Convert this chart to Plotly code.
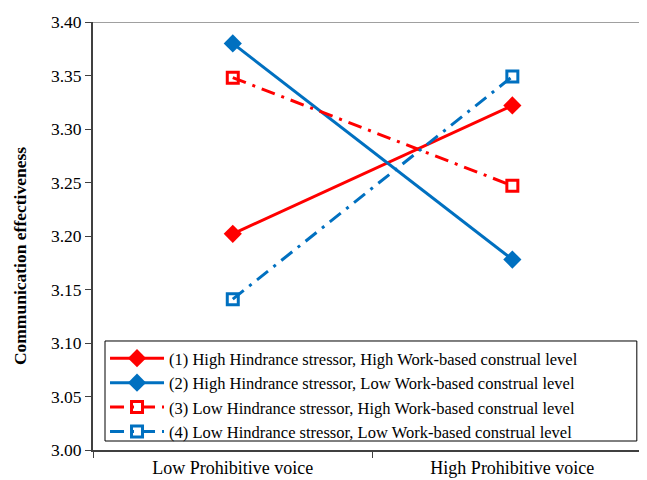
import plotly.graph_objects as go

categories = ["Low Prohibitive voice", "High Prohibitive voice"]
series_names = [
    "(1) High Hindrance stressor, High Work-based construal level",
    "(2) High Hindrance stressor, Low Work-based construal level",
    "(3) Low Hindrance stressor, High Work-based construal level",
    "(4) Low Hindrance stressor, Low Work-based construal level",
]
s1 = [3.202, 3.322]
s2 = [3.380, 3.178]
s3 = [3.348, 3.247]
s4 = [3.141, 3.349]
y_ticks = [3.00, 3.05, 3.10, 3.15, 3.20, 3.25, 3.30, 3.35, 3.40]

RED = "#FF0000"
BLUE = "#0070C0"
FONT = "Liberation Serif"
DASHDOT = "14px,7px,3px,7px"

fig = go.Figure()
styles = [
    (s1, RED, "solid", dict(symbol="diamond", size=14, color=RED)),
    (s2, BLUE, "solid", dict(symbol="diamond", size=14, color=BLUE)),
    (s3, RED, DASHDOT, dict(symbol="square-open", size=11, color=RED, line=dict(width=3, color=RED))),
    (s4, BLUE, DASHDOT, dict(symbol="square-open", size=11, color=BLUE, line=dict(width=3, color=BLUE))),
]
for name, (vals, col, dash, mk) in zip(series_names, styles):
    fig.add_trace(go.Scatter(
        x=categories, y=vals, name=name, mode="lines+markers",
        line=dict(color=col, width=3, dash=dash), marker=mk,
    ))

fig.add_shape(type="line", xref="paper", yref="y", x0=0, x1=1, y0=3.40, y1=3.40,
              line=dict(color="#A0A0A0", width=2), layer="below")
# legend frame
fig.add_shape(type="rect", xref="paper", yref="paper", x0=0.022, x1=0.996, y0=0.021, y1=0.2547,
              line=dict(color="black", width=1), fillcolor="white", layer="above")

fig.add_annotation(
    text="<b>Communication effectiveness</b>", textangle=-90,
    xref="paper", yref="paper", x=-0.1337, y=0.453, xanchor="center", yanchor="middle",
    showarrow=False, font=dict(family=FONT, size=17.5, color="black"),
)

fig.update_layout(
    width=631, height=472,
    margin=dict(l=85, r=0, t=14, b=30, autoexpand=False),
    paper_bgcolor="white", plot_bgcolor="white",
    font=dict(family=FONT, size=17.5, color="black"),
    showlegend=True,
    legend=dict(
        x=0.022, y=0.2547, xanchor="left", yanchor="top",
        borderwidth=0, bgcolor="rgba(0,0,0,0)",
        font=dict(family=FONT, size=16.5, color="black"),
        tracegroupgap=0, itemwidth=54,
    ),
    xaxis=dict(
        type="category", range=[-0.5, 1.453], showgrid=False, automargin=False,
        showline=True, linecolor="#404040", linewidth=2,
        ticks="outside", tickson="boundaries", ticklen=6, tickcolor="#404040",
        tickfont=dict(family=FONT, size=18, color="black"),
    ),
    yaxis=dict(
        range=[3.0, 3.4], tickvals=y_ticks, ticktext=[f"{v:.2f}" for v in y_ticks],
        showgrid=False, zeroline=False, automargin=False,
        showline=True, linecolor="#404040", linewidth=2,
        ticks="outside", ticklen=6, tickcolor="#404040",
        tickfont=dict(family=FONT, size=17.5, color="black"),
    ),
)

fig.write_html("out.html")
